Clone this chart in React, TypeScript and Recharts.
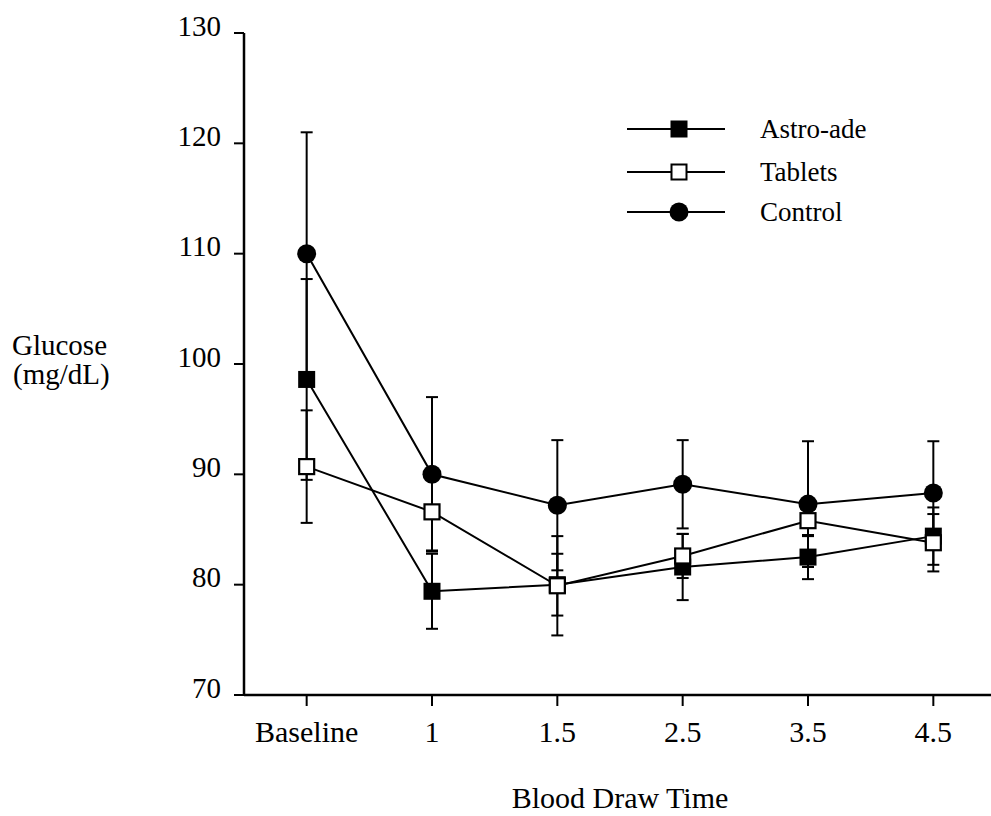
import React from 'react';
import { LineChart, Line, XAxis, YAxis, ErrorBar, Legend, Label } from 'recharts';

const categories = ['Baseline', '1', '1.5', '2.5', '3.5', '4.5'];
const astroAde = [98.6, 79.4, 80.0, 81.6, 82.5, 84.4];
const astroAdeErr = [9.1, 3.4, 2.8, 3.0, 2.0, 2.6];
const tablets = [90.7, 86.6, 79.9, 82.6, 85.8, 83.8];
const tabletsErr = [5.1, 3.5, 4.5, 2.0, 1.4, 2.6];
const control = [110.0, 90.0, 87.2, 89.1, 87.3, 88.3];
const controlErr = [11.0, 7.0, 5.9, 4.0, 5.7, 4.7];
const yTicks = [70, 80, 90, 100, 110, 120, 130];
const seriesNames = ['Astro-ade', 'Tablets', 'Control'];

const data = categories.map((c, i) => ({
  time: c,
  astro: astroAde[i],
  astroErr: astroAdeErr[i],
  tablets: tablets[i],
  tabletsErr: tabletsErr[i],
  control: control[i],
  controlErr: controlErr[i],
}));

const FONT = '"Liberation Serif", "Times New Roman", serif';
const textStyle = { fontFamily: FONT };

const FilledSquare = (props: any) => {
  const { cx, cy, index } = props;
  if (cx == null || cy == null) return <g key={`fs-${index}`} />;
  return <rect key={`fs-${index}`} x={cx - 8.5} y={cy - 8.5} width={17} height={17} fill="#000" />;
};
const OpenSquare = (props: any) => {
  const { cx, cy, index } = props;
  if (cx == null || cy == null) return <g key={`os-${index}`} />;
  return <rect key={`os-${index}`} x={cx - 7.5} y={cy - 7.5} width={15} height={15} fill="#fff" stroke="#000" strokeWidth={2.2} />;
};
const FilledCircle = (props: any) => {
  const { cx, cy, index } = props;
  if (cx == null || cy == null) return <g key={`fc-${index}`} />;
  return <circle key={`fc-${index}`} cx={cx} cy={cy} r={9.5} fill="#000" />;
};

const XTick = (props: any) => {
  const { x, y, payload } = props;
  return (
    <text x={x} y={y + 34} textAnchor="middle" style={{ ...textStyle, fontSize: 30 }} fill="#000">
      {payload.value}
    </text>
  );
};
const YTick = (props: any) => {
  const { x, y, payload } = props;
  return (
    <text x={x} y={y + 2.5} textAnchor="end" style={{ ...textStyle, fontSize: 29 }} fill="#000">
      {payload.value}
    </text>
  );
};

const YTitle = (props: any) => {
  const vb = props.viewBox || {};
  const cy = vb.y != null && vb.height != null ? vb.y + vb.height / 2 : 364;
  return (
    <text x={12} y={cy - 9} style={{ ...textStyle, fontSize: 29 }} fill="#000">
      <tspan x={12}>Glucose</tspan>
      <tspan x={13} dy={29}>(mg/dL)</tspan>
    </text>
  );
};

const markerFor = (i: number, cx: number, cy: number) => {
  if (i === 0) return <rect x={cx - 8.5} y={cy - 8.5} width={17} height={17} fill="#000" />;
  if (i === 1) return <rect x={cx - 7.5} y={cy - 7.5} width={15} height={15} fill="#fff" stroke="#000" strokeWidth={2} />;
  return <circle cx={cx} cy={cy} r={9.5} fill="#000" />;
};

const LegendContent = () => (
  <svg width={320} height={120} style={{ overflow: 'visible', display: 'block' }}>
    {seriesNames.map((name, i) => {
      const cy = [14, 57, 97][i];
      return (
        <g key={name}>
          <line x1={7} x2={105} y1={cy} y2={cy} stroke="#000" strokeWidth={2} />
          {markerFor(i, 59, cy)}
          <text x={140} y={cy + 9} style={{ ...textStyle, fontSize: 27 }} fill="#000">
            {name}
          </text>
        </g>
      );
    })}
  </svg>
);

export default function App() {
  return (
    <div style={{ position: 'absolute', left: 0, top: 0, width: 991, height: 816, overflow: 'hidden', background: '#fff', fontFamily: FONT }}>
      <LineChart width={1000} height={816} data={data} margin={{ top: 33, right: 4, bottom: 0, left: 0 }}>
        <XAxis
          dataKey="time"
          type="category"
          scale="band"
          height={121}
          axisLine={{ stroke: '#000', strokeWidth: 2.5 }}
          tickLine={{ stroke: '#000', strokeWidth: 2 }}
          tickSize={11}
          tick={<XTick />}
          interval={0}
        >
          <Label value="Blood Draw Time" position="insideBottom" offset={8} style={{ ...textStyle, fontSize: 30 }} fill="#000" />
        </XAxis>
        <YAxis
          type="number"
          domain={[70, 130]}
          ticks={yTicks}
          width={244}
          axisLine={{ stroke: '#000', strokeWidth: 2.5 }}
          tickLine={{ stroke: '#000', strokeWidth: 2 }}
          tickSize={10}
          tickMargin={13}
          tick={<YTick />}
          interval={0}
          label={<YTitle />}
        />
        <Legend
          layout="horizontal"
          verticalAlign="middle"
          align="center"
          content={<LegendContent />}
          wrapperStyle={{ position: 'absolute', left: 620, top: 115, width: 320, height: 120 }}
        />
        <Line
          dataKey="control"
          name="Control"
          stroke="#000"
          strokeWidth={2}
          dot={FilledCircle}
          activeDot={false}
          isAnimationActive={false}
        >
          <ErrorBar dataKey="controlErr" direction="y" width={6} stroke="#000" strokeWidth={2} />
        </Line>
        <Line
          dataKey="astro"
          name="Astro-ade"
          stroke="#000"
          strokeWidth={2}
          dot={FilledSquare}
          activeDot={false}
          isAnimationActive={false}
        >
          <ErrorBar dataKey="astroErr" direction="y" width={6} stroke="#000" strokeWidth={2} />
        </Line>
        <Line
          dataKey="tablets"
          name="Tablets"
          stroke="#000"
          strokeWidth={2}
          dot={OpenSquare}
          activeDot={false}
          isAnimationActive={false}
        >
          <ErrorBar dataKey="tabletsErr" direction="y" width={6} stroke="#000" strokeWidth={2} />
        </Line>
      </LineChart>
    </div>
  );
}
